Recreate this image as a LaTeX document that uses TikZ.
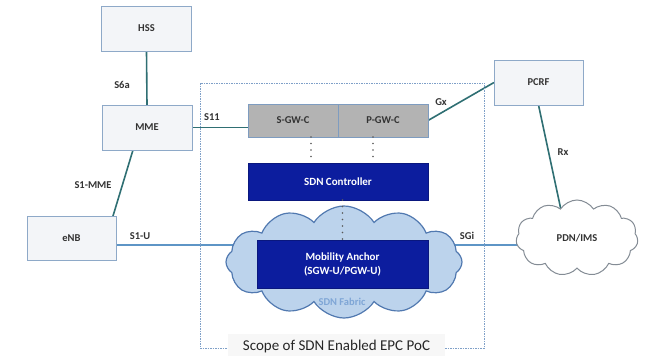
\documentclass[tikz,border=0pt]{standalone}
\usepackage{fontspec}
\setmainfont{Carlito}
\usetikzlibrary{shapes.symbols,backgrounds,calc}
\definecolor{boxfill}{HTML}{F3F5F8}
\definecolor{boxborder}{HTML}{8EA9C8}
\definecolor{grayfill}{HTML}{B3B3B3}
\definecolor{grayborder}{HTML}{7E9CC0}
\definecolor{darkblue}{HTML}{0C1D9E}
\definecolor{teal}{HTML}{2F6F73}
\definecolor{lightline}{HTML}{5E95C6}
\definecolor{cloudfill}{HTML}{BCD3EC}
\definecolor{cloudborder}{HTML}{5179B0}
\definecolor{fabrictext}{HTML}{7FA6D6}
\definecolor{scopeline}{HTML}{7FA0C8}
\definecolor{labeltext}{HTML}{333333}
\tikzset{
  nebox/.style={draw=boxborder, fill=boxfill, line width=1pt, inner sep=0pt, outer sep=0pt,
    minimum width=90pt, minimum height=45pt, font=\bfseries\fontsize{10.5}{12}\selectfont, text=labeltext},
  gwbox/.style={draw=grayborder, fill=grayfill, line width=1pt, inner sep=0pt, outer sep=0pt,
    minimum width=90pt, minimum height=33pt, font=\bfseries\fontsize{10.5}{12}\selectfont, text=labeltext},
  sdnbox/.style={draw=darkblue!80!black, fill=darkblue, line width=0.8pt, inner sep=0pt, outer sep=0pt,
    font=\bfseries\fontsize{11}{14}\selectfont, text=white, align=center},
  iflabel/.style={font=\bfseries\fontsize{10.5}{12}\selectfont, text=labeltext},
  iface/.style={draw=teal, line width=1.6pt},
  uplane/.style={draw=lightline, line width=1.6pt},
  dotconn/.style={draw=gray!70!black, line width=1.8pt, dash pattern=on 0pt off 6.5pt, line cap=round},
}
\begin{document}
\begin{tikzpicture}[x=1pt,y=-1pt]
\useasboundingbox (0,0) rectangle (646,356);
% scope box
\draw[scopeline, line width=0.8pt, dash pattern=on 1.5pt off 1pt] (200,83) rectangle (484,348);
% nodes
\node[nebox] (hss) at (146.5,28.5) {HSS};
\node[nebox] (mme) at (147,127.5) {MME};
\node[nebox, minimum width=89pt, minimum height=44pt] (enb) at (71.5,238) {eNB};
\node[nebox, minimum width=89pt] (pcrf) at (538.5,82.5) {PCRF};
\node[gwbox] (sgw) at (293,120.5) {S-GW-C};
\node[gwbox] (pgw) at (383,120.5) {P-GW-C};
\node[sdnbox, minimum width=180pt, minimum height=37pt] (ctrl) at (338,181.5) {SDN Controller};
\node[cloud, cloud puffs=12, cloud puff arc=115, cloud ignores aspect, draw=cloudborder, fill=cloudfill,
  line width=1.2pt, minimum width=236pt, minimum height=112pt] (fabric) at (344,262) {};
\node[sdnbox, minimum width=171pt, minimum height=48pt] (anchor) at (342.5,264) {Mobility Anchor\\(SGW-U/PGW-U)};
\node[font=\bfseries\fontsize{10.5}{12}\selectfont, text=fabrictext] (fablabel) at (342,302) {SDN Fabric};
\node[cloud, cloud puffs=11, cloud puff arc=115, cloud ignores aspect, draw=gray!70!boxborder, fill=white,
  line width=1pt, minimum width=122pt, minimum height=76pt, font=\bfseries\fontsize{10.5}{12}\selectfont, text=labeltext] (pdn) at (577,238) {PDN/IMS};
\node[fill=gray!6, inner sep=0pt, minimum width=217pt, minimum height=24pt, font=\fontsize{15}{16}\selectfont, text=black!85] (scope) at (336.5,346) {Scope of SDN Enabled EPC PoC};
% connectors
\begin{pgfonlayer}{background}
\draw[iface] (hss.south) -- (mme.north);
\draw[iface] ([xshift=31pt]mme.south west) -- ([xshift=86pt]enb.north west);
\draw[iface] (mme.east) -- (mme.east -| sgw.west);
\draw[iface] (pgw.east) -- (pcrf.west);
\draw[iface] (pcrf.south) -- ([xshift=-10pt]pdn.center);
\draw[uplane] ([yshift=-7pt]enb.east) -- ([yshift=-7pt]enb.east -| anchor.west);
\draw[uplane] ([yshift=-7pt]enb.east -| anchor.east) -- ([yshift=-7pt]enb.east -| pdn.center);
\end{pgfonlayer}
\draw[dotconn] ([xshift=18pt]sgw.south) -- ([xshift=18pt]sgw.south |- ctrl.north);
\draw[dotconn] ([xshift=-10pt]pgw.south) -- ([xshift=-10pt]pgw.south |- ctrl.north);
\draw[dotconn] (anchor.north |- ctrl.south) -- (anchor.north);
% labels
\node[iflabel] (l6a) at (122,85) {S6a};
\node[iflabel] (l11) at (212,117) {S11};
\node[iflabel] (lgx) at (441,102) {Gx};
\node[iflabel] (lrx) at (563,152) {Rx};
\node[iflabel] (ls1mme) at (93,185) {S1-MME};
\node[iflabel] (ls1u) at (140,236) {S1-U};
\node[iflabel] (lsgi) at (467,236) {SGi};
\end{tikzpicture}
\end{document}
